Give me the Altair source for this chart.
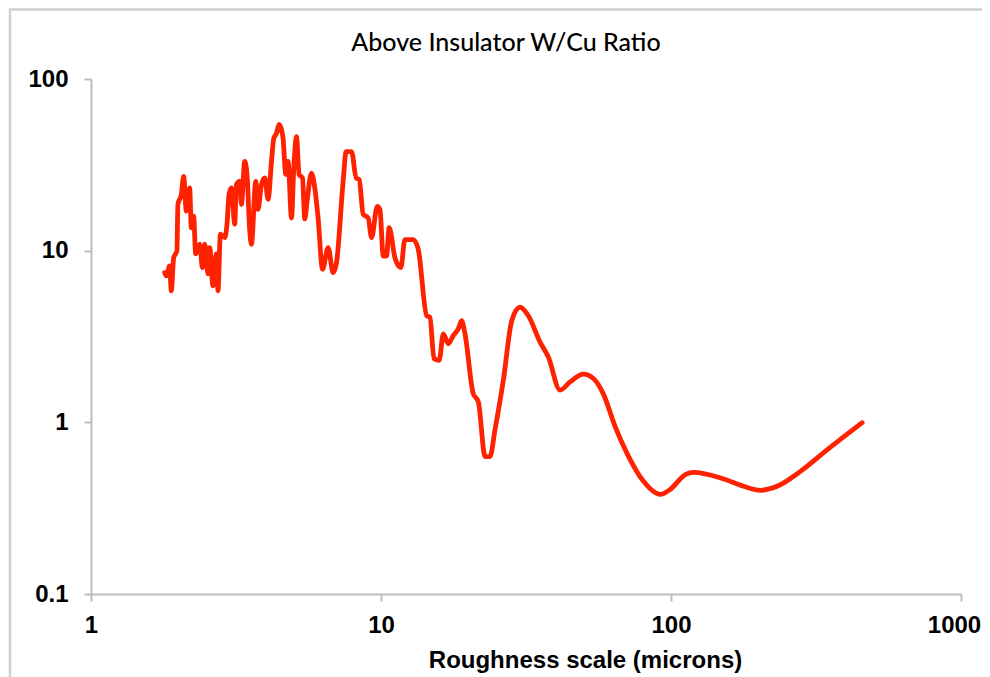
import altair as alt
import pandas as pd

# Roughness scale (microns)
scale_um = [
    1.795, 1.820, 1.867, 1.892, 1.928, 1.978, 1.994, 2.049, 2.087, 2.132,
    2.189, 2.218, 2.259, 2.296, 2.370, 2.422, 2.467, 2.532, 2.567, 2.634,
    2.707, 2.741, 2.794, 2.892, 2.945, 2.992, 3.049, 3.130, 3.173, 3.257,
    3.301, 3.389, 3.452, 3.527, 3.575, 3.699, 3.767, 3.871, 3.974, 4.080,
    4.192, 4.269, 4.361, 4.452, 4.538, 4.595, 4.695, 4.781, 4.913, 5.003,
    5.112, 5.219, 5.361, 5.460, 5.561, 5.758, 5.911, 6.069, 6.286, 6.572,
    6.838, 7.025, 7.403, 7.582, 7.915, 8.210, 8.409, 8.680, 9.033, 9.280,
    9.702, 9.915, 10.18, 10.45, 10.67, 11.17, 11.71, 12.09, 12.91, 13.44,
    14.37, 14.75, 15.23, 15.88, 16.40, 17.06, 17.75, 18.47, 18.97, 19.48,
    20.80, 21.65, 22.85, 23.76, 24.72, 26.42, 28.24, 30.16, 32.22, 35.37,
    37.76, 41.45, 44.87, 49.88, 54.02, 58.48, 64.18, 70.44, 80.37, 91.8,
    99.3, 112.0, 119.6, 151.9, 178.0, 203.2, 232.1, 279.4, 345.3, 456.2,
]

# W/Cu ratio above insulator
ratio = [
    7.45, 7.13, 8.15, 5.84, 9.10, 9.96, 18.6, 21.3, 27.1, 17.0,
    23.2, 13.6, 15.9, 9.57, 10.9, 7.97, 10.9, 7.33, 10.4, 6.24,
    9.57, 5.84, 12.5, 11.9, 14.3, 21.3, 23.2, 14.3, 24.3, 25.3,
    18.6, 33.1, 27.8, 13.0, 10.9, 25.3, 17.4, 24.3, 26.5, 19.9,
    33.1, 45.1, 48.2, 54.4, 50.7, 45.1, 27.8, 33.1, 15.5, 30.2,
    46.1, 27.8, 26.5, 15.3, 19.4, 28.3, 23.2, 15.5, 7.80, 10.4,
    7.45, 8.52, 25.3, 37.8, 37.8, 26.5, 26.0, 16.3, 15.5, 11.9,
    18.1, 17.4, 9.31, 9.31, 13.6, 9.10, 7.97, 11.6, 11.6, 10.2,
    4.18, 4.09, 2.35, 2.30, 3.28, 2.87, 3.20, 3.50, 3.91, 3.28,
    1.47, 1.32, 0.632, 0.632, 0.903, 1.76, 3.91, 4.68, 4.18, 2.93,
    2.40, 1.54, 1.72, 1.91, 1.80, 1.46, 0.944, 0.662, 0.453, 0.380,
    0.406, 0.496, 0.511, 0.468, 0.424, 0.402, 0.424, 0.518, 0.691, 0.995,
]

x_ticks = [1, 10, 100, 1000]
y_ticks = [0.1, 1, 10, 100]
chart_title = ["Above Insulator W/Cu Ratio"]

df = pd.DataFrame({"scale": scale_um, "ratio": ratio, "order": list(range(len(ratio)))})

W, H = 870, 515

line = alt.Chart(df).mark_line(
    color="#ff2200", strokeWidth=4.8, interpolate="monotone", strokeCap="round", strokeJoin="round"
).encode(
    x=alt.X("scale:Q",
            scale=alt.Scale(type="log", domain=[1, 1000]),
            axis=alt.Axis(values=x_ticks, format="~g", title="Roughness scale (microns)",
                          titleX=494, titleY=73, titleBaseline="alphabetic", titleAlign="center",
                          titleAnchor="start",
                          labelOffset=alt.condition("datum.value == 1000", alt.value(-7), alt.value(0)))),
    y=alt.Y("ratio:Q",
            scale=alt.Scale(type="log", domain=[0.1, 100]),
            axis=alt.Axis(values=y_ticks, format="~g", title=None)),
    order="order:Q",
)

frame = alt.Chart(pd.DataFrame({"t": chart_title})).mark_rect(
    fill=None, stroke="#d0d0d0", strokeWidth=2.5, clip=False
).encode(
    x=alt.value(-81), x2=alt.value(W + 60),
    y=alt.value(-69.5), y2=alt.value(H + 140),
)

title_text = alt.Chart(pd.DataFrame({"t": chart_title})).mark_text(
    font="Lato", fontSize=25, fontWeight=500, color="#000000", align="center", baseline="middle"
).encode(
    text="t:N",
    x=alt.value(415), y=alt.value(-36),
)

chart = alt.layer(frame, line, title_text).properties(
    width=W, height=H,
    padding={"left": 83, "top": 71, "right": 21, "bottom": 90},
    autosize=alt.AutoSizeParams(type="none"),
).configure_view(
    stroke=None
).configure_axis(
    grid=False, labelFlush=False,
    domainColor="#bdbdbd", domainWidth=2,
    tickColor="#bdbdbd", tickWidth=2, tickSize=7,
    labelFont="Liberation Sans", labelFontSize=24, labelFontWeight="bold", labelColor="#000000",
    titleFont="Liberation Sans", titleFontSize=24, titleFontWeight="bold", titleColor="#000000",
).configure_axisX(
    labelPadding=12
).configure_axisY(
    labelPadding=16
)

chart.save("out.html", embed_options={"renderer": "svg", "actions": False})
